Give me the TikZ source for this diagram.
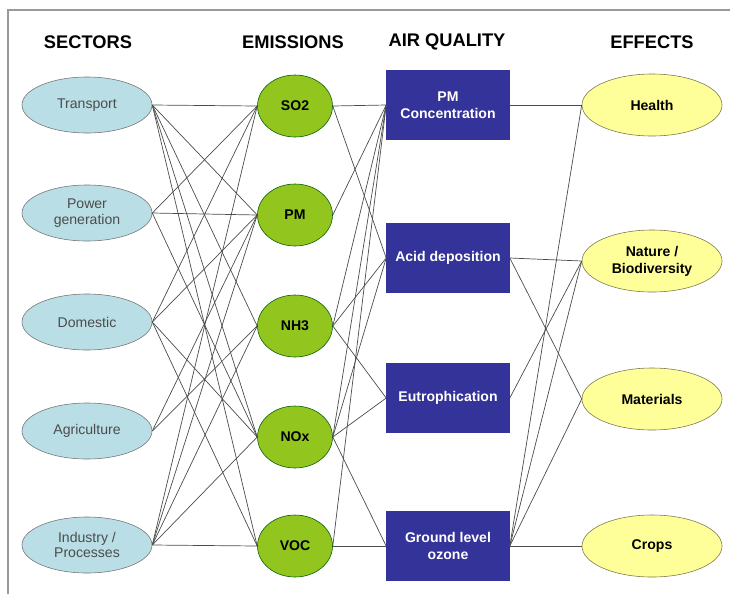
\documentclass[tikz,border=0pt]{standalone}
\usepackage{fontspec}
\setmainfont{Liberation Sans}
\usetikzlibrary{shapes.geometric}
\definecolor{sectorblue}{HTML}{B9DEE6}
\definecolor{emisgreen}{HTML}{92C51E}
\definecolor{aqblue}{HTML}{333399}
\definecolor{effyellow}{HTML}{FFFF99}
\begin{document}
\begin{tikzpicture}[x = 0.025cm, y = -0.025cm, every node/.style={inner sep=2},
    sector/.style={ellipse, draw=black!55, fill=sectorblue, minimum width=3.25cm, minimum height=1.4cm, align=center, text=black!70, font=\fontsize{10}{11}\selectfont},
    emission/.style={ellipse, draw=green!35!black, fill=emisgreen, minimum width=1.875cm, minimum height=1.55cm, font=\bfseries\fontsize{10}{11}\selectfont},
    quality/.style={rectangle, fill=aqblue, minimum width=3.075cm, minimum height=1.75cm, align=center, text=white, font=\bfseries\fontsize{10}{12}\selectfont},
    effect/.style={ellipse, draw=black!60!yellow, fill=effyellow, minimum width=3.5cm, minimum height=1.55cm, align=center, font=\bfseries\fontsize{10}{12}\selectfont},
    header/.style={font=\bfseries\fontsize{13}{15}\selectfont},
    link/.style={draw=black!70, line width=0.5pt}]
    \useasboundingbox (0,0) rectangle (730,594);
    \draw[black!40, line width=1pt] (8,594) -- (8,10) -- (730,10);

    \draw(88, 42) node [header](h1){SECTORS};
    \draw(293, 42) node [header](h2){EMISSIONS};
    \draw(447, 42) node [header](h3){AIR QUALITY};
    \draw(652, 42) node [header](h4){EFFECTS};

    \draw(87, 105) node [sector](tra){Transport};
    \draw(87, 213) node [sector](pow){Power\\generation};
    \draw(87, 322) node [sector](dom){Domestic};
    \draw(87, 431) node [sector](agr){Agriculture};
    \draw(87, 545) node [sector](ind){Industry /\\Processes};

    \draw(295, 106) node [emission](so2){SO2};
    \draw(295, 215) node [emission](pm){PM};
    \draw(295, 326) node [emission](nh3){NH3};
    \draw(295, 437) node [emission](nox){NOx};
    \draw(295, 546) node [emission](voc){VOC};

    \draw(448, 105) node [quality](pmc){PM\\Concentration};
    \draw(448, 258) node [quality](acid){Acid deposition};
    \draw(448, 398) node [quality](eut){Eutrophication};
    \draw(448, 546) node [quality](ozo){Ground level\\ozone};

    \draw(652, 105) node [effect](hea){Health};
    \draw(652, 261) node [effect](nat){Nature /\\Biodiversity};
    \draw(652, 399) node [effect](mat){Materials};
    \draw(652, 546) node [effect](cro){Crops};

    % sectors to emissions
    \draw[link] (tra.east) -- (so2.west);
    \draw[link] (tra.east) -- (pm.west);
    \draw[link] (tra.east) -- (nh3.west);
    \draw[link] (tra.east) -- (nox.west);
    \draw[link] (tra.east) -- (voc.west);
    \draw[link] (pow.east) -- (so2.west);
    \draw[link] (pow.east) -- (pm.west);
    \draw[link] (pow.east) -- (nox.west);
    \draw[link] (dom.east) -- (so2.west);
    \draw[link] (dom.east) -- (pm.west);
    \draw[link] (dom.east) -- (nox.west);
    \draw[link] (dom.east) -- (voc.west);
    \draw[link] (agr.east) -- (pm.west);
    \draw[link] (agr.east) -- (nh3.west);
    \draw[link] (ind.east) -- (so2.west);
    \draw[link] (ind.east) -- (pm.west);
    \draw[link] (ind.east) -- (nh3.west);
    \draw[link] (ind.east) -- (nox.west);
    \draw[link] (ind.east) -- (voc.west);

    % emissions to air quality
    \draw[link] (so2.east) -- (pmc.west);
    \draw[link] (so2.east) -- (acid.west);
    \draw[link] (pm.east) -- (pmc.west);
    \draw[link] (nh3.east) -- (pmc.west);
    \draw[link] (nh3.east) -- (acid.west);
    \draw[link] (nh3.east) -- (eut.west);
    \draw[link] (nox.east) -- (pmc.west);
    \draw[link] (nox.east) -- (acid.west);
    \draw[link] (nox.east) -- (eut.west);
    \draw[link] (nox.east) -- (ozo.west);
    \draw[link] (voc.east) -- (pmc.west);
    \draw[link] (voc.east) -- (ozo.west);

    % air quality to effects
    \draw[link] (pmc.east) -- (hea.west);
    \draw[link] (acid.east) -- (nat.west);
    \draw[link] (acid.east) -- (mat.west);
    \draw[link] (eut.east) -- (nat.west);
    \draw[link] (ozo.east) -- (hea.west);
    \draw[link] (ozo.east) -- (nat.west);
    \draw[link] (ozo.east) -- (mat.west);
    \draw[link] (ozo.east) -- (cro.west);
\end{tikzpicture}
\end{document}
